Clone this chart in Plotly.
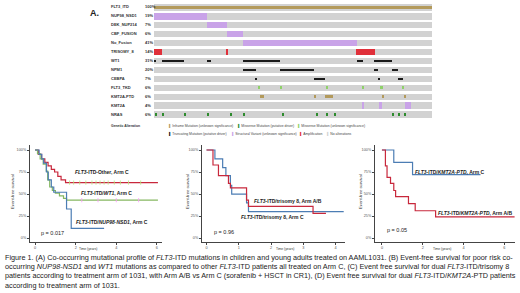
import plotly.graph_objects as go

W, H = 520, 293
def PX(px): return px / W
def PY(py): return 1 - py / H

# ---------------- Oncoprint data ----------------
N_SAMPLES = 139
gene_rows = ["FLT3_ITD", "NUP98_NSD1", "DEK_NUP214", "CBF_FUSION", "No_Fusion", "TRISOMY_8",
             "WT1", "NPM1", "CEBPA", "FLT3_TKD", "KMT2A-PTD", "KMT2A", "NRAS"]
gene_pct = ["100%", "19%", "7%", "6%", "41%", "14%", "31%", "20%", "7%", "6%", "6%", "4%", "6%"]

# alteration segments as [start_sample, end_sample]
flt3_itd = [[0, 139]]
nup98_nsd1 = [[0, 26.5]]
dek_nup214 = [[26.5, 36.5]]
cbf_fusion = [[36.5, 44.5]]
no_fusion = [[44.5, 101.5]]
trisomy_8 = [[0, 4], [36, 37], [101, 110.5]]
wt1 = [[0, 1], [4, 15], [26.5, 28.5], [44.5, 63], [101.5, 104.5], [110, 119]]
npm1 = [[44.5, 51], [63, 80], [110, 112], [119, 122]]
cebpa = [[50.5, 51.5], [80, 85.5], [112, 113], [122, 124.5]]
flt3_tkd = [[52, 53], [63, 64], [86, 87], [104, 105], [113, 114.5], [124, 125]]
kmt2a_ptd = [[53, 55], [80, 81], [85.5, 89.5], [114, 115], [125, 126]]
kmt2a = [[104, 105], [112.5, 114], [125.5, 128.5]]
nras = [[0.5, 1.5], [4, 5], [15, 16], [26.5, 27.5], [38, 39], [44.5, 45.5], [64, 65], [81, 82],
        [86, 87], [90, 91], [119, 120], [122, 123], [125, 126]]

# ---------------- KM data ----------------
# Panel B
other_t = [0, 0.16, 0.32, 0.48, 0.64, 0.8, 0.96, 1.12, 1.28, 1.5, 6.05]
other_s = [100, 95, 90, 86, 82, 78, 75, 70, 66, 63, 63]
other_cens_t = [1.7, 1.9, 2.2, 2.5, 2.8, 3.0, 3.2, 3.4, 3.6, 3.9, 4.2, 4.6, 5.2]
wt1_t = [0, 0.12, 0.25, 0.4, 0.55, 0.62, 0.72, 0.85, 1.0, 1.2, 1.4, 1.55, 6.05]
wt1_s = [100, 96, 90, 84, 76, 66, 58, 54, 51, 48, 45, 43, 43]
wt1_cens_t = [2.3, 3.1, 4.0, 5.1]
nup_t = [0, 0.2, 0.33, 0.42, 0.56, 0.65, 0.8, 0.92, 1.55, 1.78, 3.4]
nup_s = [100, 95, 90, 85, 75, 66, 58, 52, 33, 11, 11]
# Panel C
tri_ab_t = [0, 0.2, 0.37, 0.68, 0.74, 1.24, 1.3, 3.3, 3.7]
tri_ab_s = [100, 83, 71, 62, 57, 43, 36, 28, 28]
tri_c_t = [0, 0.26, 0.5, 0.6, 0.74, 0.78, 1.24, 1.3, 4.25]
tri_c_s = [100, 90, 80, 71, 60, 50, 40, 30, 30]
# Panel D
kmt_c_t = [0, 0.58, 1.5, 4.83]
kmt_c_s = [100, 86, 72, 72]
kmt_ab_t = [0, 0.17, 0.25, 0.42, 0.58, 0.67, 1.3, 1.63, 2.63, 6.5]
kmt_ab_s = [100, 82, 69, 62, 54, 47, 39, 31, 24, 24]

y_ticks = [0, 25, 50, 75, 100]
y_tick_text = ["0%", "25%", "50%", "75%", "100%"]

# ---------------- Colours ----------------
C_GREY = "#d2d2d2"
C_INFRAME = "#b39a5c"
C_MISS_DRV = "#2e8b2e"
C_MISS_UNK = "#8fd16a"
C_TRUNC = "#1a1a1a"
C_SV = "#c9a3e8"
C_AMP = "#e0303a"
C_RED = "#c8283c"
C_GREEN = "#86b862"
C_BLUE = "#4c7db4"

fig = go.Figure()

def seg_trace(segs, row, color, width):
    return go.Bar(orientation="h", y=[row] * len(segs), x=[e - s for s, e in segs],
                  base=[s for s, e in segs], width=width, marker=dict(color=color, line=dict(width=0)),
                  xaxis="x", yaxis="y", hoverinfo="skip")

# grey background rows
fig.add_trace(go.Bar(orientation="h", y=list(range(len(gene_rows))), x=[N_SAMPLES] * len(gene_rows),
                     base=[0] * len(gene_rows), width=0.7, marker=dict(color=C_GREY, line=dict(width=0)),
                     xaxis="x", yaxis="y", hoverinfo="skip"))
fig.add_trace(seg_trace(flt3_itd, 0, C_INFRAME, 0.35))
fig.add_trace(seg_trace(nup98_nsd1, 1, C_SV, 0.7))
fig.add_trace(seg_trace(dek_nup214, 2, C_SV, 0.7))
fig.add_trace(seg_trace(cbf_fusion, 3, C_SV, 0.7))
fig.add_trace(seg_trace(no_fusion, 4, C_SV, 0.7))
fig.add_trace(seg_trace(trisomy_8, 5, C_AMP, 0.7))
fig.add_trace(seg_trace(wt1, 6, C_TRUNC, 0.3))
fig.add_trace(seg_trace(npm1, 7, C_TRUNC, 0.3))
fig.add_trace(seg_trace(cebpa, 8, C_TRUNC, 0.3))
fig.add_trace(seg_trace(flt3_tkd, 9, C_MISS_UNK, 0.3))
fig.add_trace(seg_trace(kmt2a_ptd, 10, C_INFRAME, 0.3))
fig.add_trace(seg_trace(kmt2a, 11, C_SV, 0.7))
fig.add_trace(seg_trace(nras, 12, C_MISS_DRV, 0.3))

def km(t, s, color, xa, ya):
    fig.add_trace(go.Scatter(x=t, y=s, mode="lines", line=dict(color=color, width=1.2, shape="hv"),
                             xaxis=xa, yaxis=ya, hoverinfo="skip"))

def cens(t, level, color, xa, ya):
    fig.add_trace(go.Scatter(x=t, y=[level] * len(t), mode="markers",
                             marker=dict(symbol="line-ns-open", size=3, line=dict(color=color, width=0.8)),
                             xaxis=xa, yaxis=ya, hoverinfo="skip"))

km(other_t, other_s, C_RED, "x2", "y2")
km(wt1_t, wt1_s, C_GREEN, "x2", "y2")
km(nup_t, nup_s, C_BLUE, "x2", "y2")
cens(other_cens_t, other_s[-1], C_RED, "x2", "y2")
cens(wt1_cens_t, wt1_s[-1], C_GREEN, "x2", "y2")
km(tri_c_t, tri_c_s, C_BLUE, "x3", "y3")
km(tri_ab_t, tri_ab_s, C_RED, "x3", "y3")
km(kmt_c_t, kmt_c_s, C_BLUE, "x4", "y4")
km(kmt_ab_t, kmt_ab_s, C_RED, "x4", "y4")

axis_common = dict(showline=True, linecolor="#444", linewidth=0.8, ticks="outside", ticklen=2,
                   tickwidth=0.6, tickcolor="#444", tickfont=dict(size=3.8, color="#555", family="Liberation Sans"),
                   showgrid=False, zeroline=False, fixedrange=True)
ydom = [PY(242), PY(145)]
fig.update_layout(
    width=W, height=H, margin=dict(l=0, r=0, t=0, b=0), paper_bgcolor="white", plot_bgcolor="white",
    showlegend=False, barmode="overlay", bargap=0,
    xaxis=dict(domain=[PX(154), PX(432)], range=[0, N_SAMPLES], visible=False, fixedrange=True),
    yaxis=dict(domain=[PY(118.5), PY(2.5)], range=[12.5, -0.5], visible=False, fixedrange=True),
    xaxis2=dict(domain=[PX(30), PX(162)], range=[-0.25, 6.25], tickvals=[0, 2, 4, 6], anchor="y2", **axis_common),
    yaxis2=dict(domain=ydom, range=[-4.5, 105.7], tickvals=y_ticks, ticktext=y_tick_text, anchor="x2", **axis_common),
    xaxis3=dict(domain=[PX(202), PX(345)], range=[-0.14, 4.29], tickvals=[0, 1, 2, 3, 4], anchor="y3", **axis_common),
    yaxis3=dict(domain=ydom, range=[-4.5, 105.7], tickvals=y_ticks, ticktext=y_tick_text, anchor="x3", **axis_common),
    xaxis4=dict(domain=[PX(375), PX(515)], range=[-0.34, 6.52], tickvals=[0, 2, 4, 6], anchor="y4", **axis_common),
    yaxis4=dict(domain=ydom, range=[-4.5, 105.7], tickvals=y_ticks, ticktext=y_tick_text, anchor="x4", **axis_common),
)

ann = []
FONT = "Liberation Sans"
ann.append(dict(text="<b>A.</b>", x=PX(88), y=PY(13), xref="paper", yref="paper", xanchor="left",
                yanchor="middle", showarrow=False, font=dict(size=9, family=FONT, color="#222")))
for i, (g, p) in enumerate(zip(gene_rows, gene_pct)):
    ann.append(dict(text="<b>" + g + "</b>", x=PX(109), y=i, xref="paper", yref="y", xanchor="left",
                    yanchor="middle", showarrow=False, font=dict(size=4, family=FONT, color="#333")))
    ann.append(dict(text="<b>" + p + "</b>", x=PX(143), y=i, xref="paper", yref="y", xanchor="left",
                    yanchor="middle", showarrow=False, font=dict(size=4, family=FONT, color="#333")))

ann.append(dict(text="<b>Genetic Alteration</b>", x=PX(109), y=PY(126), xref="paper", yref="paper",
                xanchor="left", yanchor="middle", showarrow=False, font=dict(size=3.4, family=FONT, color="#333")))
legend_items = [
    (167, 126, C_INFRAME, "Inframe Mutation (unknown significance)"),
    (236, 126, C_MISS_DRV, "Missense Mutation (putative driver)"),
    (296, 126, C_MISS_UNK, "Missense Mutation (unknown significance)"),
    (167, 134, C_TRUNC, "Truncating Mutation (putative driver)"),
    (230, 134, C_SV, "Structural Variant (unknown significance)"),
    (298, 134, C_AMP, "Amplification"),
    (325, 134, C_GREY, "No alterations"),
]
for x, y, c, t in legend_items:
    ann.append(dict(text='<span style="color:%s">\u258c</span> %s' % (c, t), x=PX(x), y=PY(y), xref="paper",
                    yref="paper", xanchor="left", yanchor="middle", showarrow=False,
                    font=dict(size=3.4, family=FONT, color="#444")))

# axis titles
for xt in [88, 285, 442]:
    ann.append(dict(text="Time (years)", x=PX(xt), y=PY(249.3), xref="paper", yref="paper", xanchor="center",
                    yanchor="middle", showarrow=False, font=dict(size=3.3, family=FONT, color="#333")))
for xt in [12, 187, 360]:
    ann.append(dict(text="Event-free survival", x=PX(xt), y=PY(192), xref="paper", yref="paper",
                    xanchor="center", yanchor="middle", textangle=-90, showarrow=False,
                    font=dict(size=4.2, family=FONT, color="#333")))

def lab(text, x, y, xr, yr, anchor="center", bold=True, size=5):
    ann.append(dict(text=("<b>%s</b>" % text) if bold else text, x=x, y=y, xref=xr, yref=yr, xanchor=anchor,
                    yanchor="middle", showarrow=False, font=dict(size=size, family=FONT, color="#222")))

lab("<i>FLT3</i>-ITD-Other, Arm C", 3.3, 75, "x2", "y2")
lab("<i>FLT3</i>-ITD/<i>WT1</i>, Arm C", 3.5, 51, "x2", "y2")
lab("<i>FLT3</i>-ITD/<i>NUP98-NSD1</i>, Arm C", 3.8, 18, "x2", "y2")
lab("p = 0.017", 0.2, 6, "x2", "y2", anchor="left", bold=False, size=5.5)
lab("<i>FLT3</i>-ITD/trisomy 8, Arm A/B", 2.52, 41.6, "x3", "y3")
lab("<i>FLT3</i>-ITD/trisomy 8, Arm C", 2.03, 23.6, "x3", "y3")
lab("p = 0.96", 0.17, 7, "x3", "y3", anchor="left", bold=False, size=5.5)
lab("<i>FLT3</i>-ITD/<i>KMT2A-PTD</i>, Arm C", 3.33, 75, "x4", "y4")
lab("<i>FLT3</i>-ITD/<i>KMT2A-PTD</i>, Arm A/B", 4.56, 28, "x4", "y4")
lab("p = 0.05", 0.15, 9, "x4", "y4", anchor="left", bold=False, size=5.5)

caption = [
    "Figure 1. (A) Co-occurring mutational profile of <i>FLT3</i>-ITD mutations in children and young adults treated on AAML1031. (B) Event-free survival for poor risk co-",
    "occurring <i>NUP98-NSD1</i> and <i>WT1</i> mutations as compared to other <i>FLT3</i>-ITD patients all treated on Arm C, (C) Event free survival for dual <i>FLT3</i>-ITD/trisomy 8",
    "patients according to treatment arm of 1031, with Arm A/B vs Arm C (sorafenib + HSCT in CR1), (D) Event free survival for dual <i>FLT3</i>-ITD/<i>KMT2A</i>-PTD patients",
    "according to treatment arm of 1031.",
]
for i, line in enumerate(caption):
    ann.append(dict(text=line, x=PX(3), y=PY(257.4 + 9.2 * i), xref="paper", yref="paper", xanchor="left",
                    yanchor="middle", showarrow=False, font=dict(size=7.25, family=FONT, color="#1a1a1a")))

fig.update_layout(annotations=ann)
fig.write_html("out.html", config={"displayModeBar": False},
               post_script="document.body.style.margin='0px';")
